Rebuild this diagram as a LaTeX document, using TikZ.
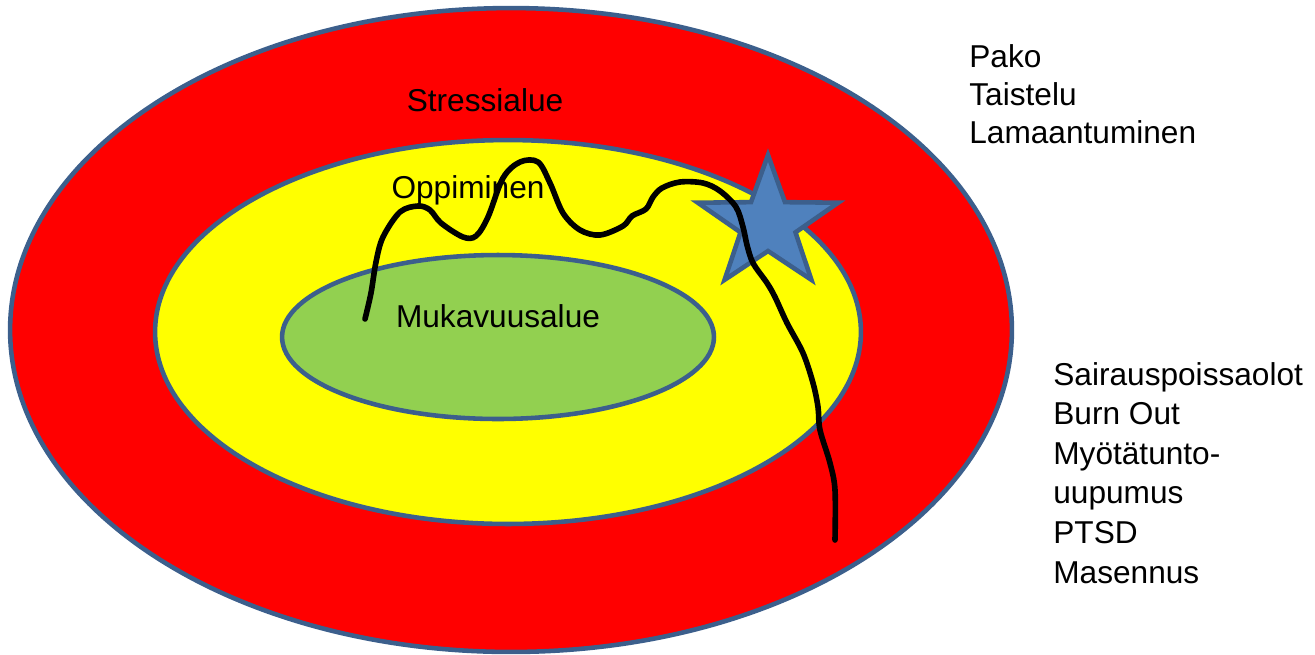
\documentclass[tikz,border=0pt]{standalone}
\usepackage{fontspec}
\setmainfont{Liberation Sans}
\usepackage{xcolor}
\usepackage{tikz}
\usetikzlibrary{shapes.geometric}

\definecolor{rimblue}{HTML}{3C5F8C}
\definecolor{stressred}{HTML}{FF0000}
\definecolor{learnyellow}{HTML}{FFFF00}
\definecolor{comfortgreen}{HTML}{92D050}
\definecolor{starblue}{HTML}{4F81BD}

\tikzset{
  zone/.style={ellipse, draw=rimblue, line width=2.6pt, inner sep=0pt},
  zonetext/.style={anchor=base, inner sep=0pt, font=\fontsize{18}{21}\selectfont},
  listtext/.style={anchor=base west, inner sep=0pt, font=\fontsize{18}{21}\selectfont},
  wiggle/.style={line width=3.2pt, line cap=round, line join=round}
}

\begin{document}
\begin{tikzpicture}[x=0.02cm, y=-0.02cm]
\useasboundingbox (0,0) rectangle (1315,654);
% the three zones
\node[zone, fill=stressred, minimum width=20.04cm, minimum height=12.88cm] (stress) at (511,330) {};
\node[zone, fill=learnyellow, minimum width=14.12cm, minimum height=7.68cm] (learn) at (508,332) {};
\node[zone, fill=comfortgreen, minimum width=8.64cm, minimum height=3.28cm] (comfort) at (498,337) {};
\node[zonetext] (stresslbl) at (485,111) {Stressialue};
\node[zonetext] (learnlbl) at (468,198) {Oppiminen};
\node[zonetext] (comfortlbl) at (498,327) {Mukavuusalue};
% star
\draw[fill=starblue, draw=rimblue, line width=2.6pt, line join=miter, shift={(768,224)}, xscale=1.07, yscale=-1]
  (90:69) -- (126:27) -- (162:69) -- (198:27) -- (234:69) -- (270:27)
  -- (306:69) -- (342:27) -- (18:69) -- (54:27) -- cycle;
% path through the zones
\draw[wiggle] plot[smooth, tension=0.55] coordinates {
  (365,319) (371,293) (376,262) (383,237) (400,212) (418,206) (430,210)
  (441,223) (463,237) (476,236) (488,217) (503,178) (520,162) (538,162)
  (550,183) (563,213) (580,230) (600,235) (623,226) (632,216) (646,209)
  (653,197) (662,188) (680,182) (703,183) (720,191) (736,207) (743,227)
  (747,245) (753,263) (767,283) (775,297) (787,323) (803,353) (813,383)
  (818,407) (820,430) (830,463) (835,490) (835,540)};
% reactions
\foreach \txt [count=\i] in {Pako, Taistelu, Lamaantuminen}
  \node[listtext] (react\i) at (969,{67+38*(\i-1)}) {\txt};
\foreach \txt [count=\i] in {Sairauspoissaolot, Burn Out, Myötätunto-, uupumus, PTSD, Masennus}
  \node[listtext] (effect\i) at (1053,{385+39.6*(\i-1)}) {\txt};
\end{tikzpicture}
\end{document}
